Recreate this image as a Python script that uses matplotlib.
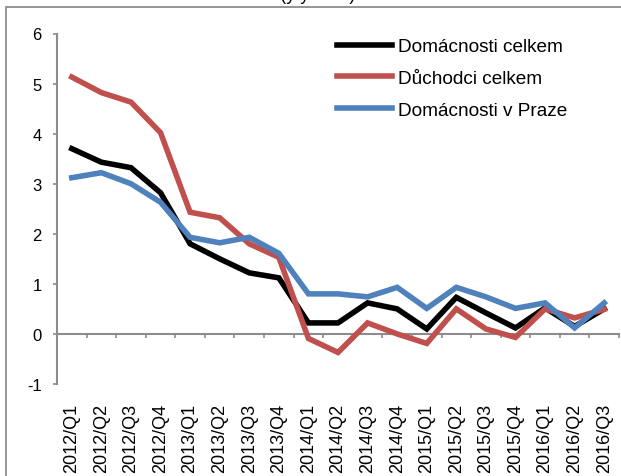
import matplotlib
matplotlib.use("Agg")
import matplotlib.pyplot as plt
from matplotlib.patches import Rectangle

plt.rcParams['font.family'] = ['Liberation Sans', 'DejaVu Sans']

categories = ["2012/Q1", "2012/Q2", "2012/Q3", "2012/Q4",
              "2013/Q1", "2013/Q2", "2013/Q3", "2013/Q4",
              "2014/Q1", "2014/Q2", "2014/Q3", "2014/Q4",
              "2015/Q1", "2015/Q2", "2015/Q3", "2015/Q4",
              "2016/Q1", "2016/Q2", "2016/Q3"]
domacnosti = [3.7, 3.43, 3.32, 2.82, 1.8, 1.5, 1.22, 1.12, 0.22, 0.22, 0.62, 0.5,
              0.1, 0.73, 0.42, 0.12, 0.52, 0.15, 0.5]
duchodci = [5.13, 4.82, 4.63, 4.02, 2.43, 2.32, 1.8, 1.53, -0.09, -0.37, 0.22, 0.0,
            -0.19, 0.5, 0.1, -0.07, 0.5, 0.32, 0.49]
praha = [3.12, 3.22, 3.0, 2.63, 1.93, 1.82, 1.93, 1.61, 0.8, 0.8, 0.74, 0.93,
         0.51, 0.93, 0.74, 0.51, 0.62, 0.12, 0.62]
series_names = ["Domácnosti celkem", "Důchodci celkem", "Domácnosti v Praze"]
series_colors = ["#000000", "#C0504D", "#4F81BD"]
yticks = [-1, 0, 1, 2, 3, 4, 5, 6]

W, H = 621, 477
fig = plt.figure(figsize=(W / 100, H / 100), dpi=100)

# outer frame (partially outside the figure)
fig.patches.append(Rectangle((6 / W, -0.2), 1.2, 1 - 8 / H + 0.2, transform=fig.transFigure,
                             fill=False, edgecolor="#8c8c8c", linewidth=1.3))
# title, mostly above the visible area as in the reference
fig.text(240 / W, 1 + 0.5 / H, "Inflace domácností (y/y in %)", ha="center", va="baseline",
         fontsize=13, color="#000000")

left, right, top, bottom = 57, 619, 34.5, 385
ax = fig.add_axes([left / W, (H - bottom) / H, (right - left) / W, (bottom - top) / H])

x = list(range(len(categories)))
for vals, name, col in zip([domacnosti, duchodci, praha], series_names, series_colors):
    ax.plot(x, vals, color=col, linewidth=4, label=name, solid_joinstyle="miter")

ax.set_xlim(-0.5, len(categories) - 0.5)
ax.set_ylim(-1, 6)
ax.set_yticks(yticks)
ax.set_yticklabels([str(v) for v in yticks], fontsize=12)
ax.tick_params(axis="y", direction="out", length=3, width=1.2, color="#8c8c8c", pad=8)

for s in ["top", "right", "bottom"]:
    ax.spines[s].set_visible(False)
ax.spines["left"].set_color("#8c8c8c")
ax.spines["left"].set_linewidth(1.5)

ax.set_xticks(x)
ax.set_xticklabels(categories, rotation=90, fontsize=13)
ax.tick_params(axis="x", length=0, pad=13.5)

sec = ax.secondary_xaxis(1 / 7)
sec.set_xticks([i - 0.5 for i in range(len(categories) + 1)])
sec.set_xticklabels([])
sec.tick_params(axis="x", direction="out", length=3, width=1.2, color="#8c8c8c")
sec.spines["bottom"].set_color("#8c8c8c")
sec.spines["bottom"].set_linewidth(1.5)

leg = ax.legend(loc="upper left", bbox_to_anchor=(272 / (right - left), 1.009), frameon=False,
                fontsize=13.7, handlelength=2.9, handletextpad=0.3, labelspacing=0.76,
                borderaxespad=0)

fig.savefig("out.png", dpi=100)
